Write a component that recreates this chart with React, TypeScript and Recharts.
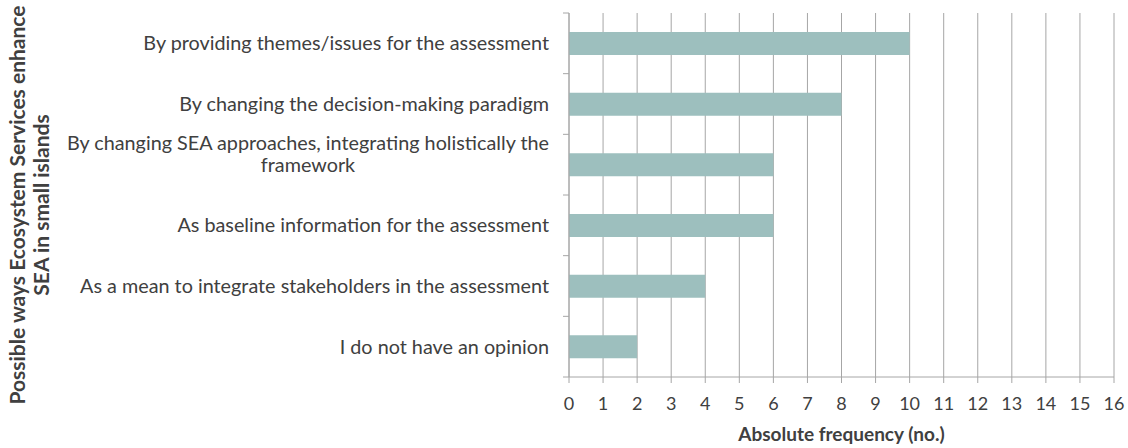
import { BarChart, Bar, XAxis, YAxis, CartesianGrid, Label } from 'recharts'

const categories = [
  'By providing themes/issues for the assessment',
  'By changing the decision-making paradigm',
  'By changing SEA approaches, integrating holistically the\nframework',
  'As baseline information for the assessment',
  'As a mean to integrate stakeholders in the assessment',
  'I do not have an opinion',
]
const frequency = [10, 8, 6, 6, 4, 2]
const xTicks = [0, 1, 2, 3, 4, 5, 6, 7, 8, 9, 10, 11, 12, 13, 14, 15, 16]
const yTitleLines = ['Possible ways Ecosystem Services enhance', 'SEA in  small islands']
const xTitle = 'Absolute frequency (no.)'

const data = categories.map((name, i) => ({ name, value: frequency[i] }))

const W = 1128
const H = 448
const MARGIN = { top: 13, right: 14, bottom: 0, left: 0 }
const Y_AXIS_W = 569
const X_AXIS_H = 71
const PLOT_H = H - MARGIN.top - MARGIN.bottom - X_AXIS_H
const BAND = PLOT_H / categories.length
const FONT = 'Lato, "Liberation Sans", sans-serif'
const GRID = '#a6a6a6'
const TEXT = '#404040'
const LABEL_GAP = 20

function CategoryTick(props: any) {
  const { x, y, payload, index } = props
  const lines = String(payload.value).split('\n')
  const axisX = x + LABEL_GAP
  const lh = 22
  // excel pushes wrapped labels up a bit
  const startY = y - (lines.length - 1) * 22
  return (
    <g>
      <line x1={axisX - 6} x2={axisX} y1={y - BAND / 2} y2={y - BAND / 2} stroke={GRID} />
      {index === categories.length - 1 && (
        <line x1={axisX - 6} x2={axisX} y1={y + BAND / 2} y2={y + BAND / 2} stroke={GRID} />
      )}
      {lines.map((ln, i) => (
        <text
          key={i}
          x={i === 0 ? x : x - 241}
          y={startY + i * lh}
          dy="0.35em"
          textAnchor={i === 0 ? 'end' : 'middle'}
          fontSize={19.8}
          fontFamily={FONT}
          fill={TEXT}
        >
          {ln}
        </text>
      ))}
    </g>
  )
}

function YTitle(props: any) {
  const { viewBox } = props
  const cy = viewBox.y + viewBox.height / 2 + 10
  return (
    <g>
      {yTitleLines.map((t, i) => {
        const cx = 16 + i * 24
        return (
          <text
            key={i}
            x={cx}
            y={cy}
            textAnchor="middle"
            dominantBaseline="central"
            transform={`rotate(-90, ${cx}, ${cy})`}
            fontSize={21}
            fontWeight="bold"
            fontFamily={FONT}
            fill={TEXT}
          >
            {t}
          </text>
        )
      })}
    </g>
  )
}

function XTitle(props: any) {
  const { viewBox } = props
  return (
    <text
      x={viewBox.x + viewBox.width / 2}
      y={viewBox.y + viewBox.height - 7}
      textAnchor="middle"
      fontSize={19}
      fontWeight="bold"
      fontFamily={FONT}
      fill={TEXT}
    >
      {xTitle}
    </text>
  )
}

export default function App() {
  return (
    <div style={{ position: 'absolute', left: 0, top: 0, background: '#fff' }}>
      <BarChart width={W} height={H} data={data} layout="vertical" margin={MARGIN}>
        <CartesianGrid vertical horizontal={false} stroke={GRID} />
        <XAxis
          type="number"
          domain={[0, 16]}
          ticks={xTicks}
          interval={0}
          height={X_AXIS_H}
          stroke={GRID}
          tickSize={6}
          tickMargin={14}
          tick={{ fontSize: 18, fill: TEXT, fontFamily: FONT }}
        >
          <Label content={<XTitle />} />
        </XAxis>
        <YAxis
          type="category"
          dataKey="name"
          width={Y_AXIS_W}
          stroke={GRID}
          tickLine={false}
          tickSize={0}
          tickMargin={LABEL_GAP}
          interval={0}
          tick={<CategoryTick />}
        >
          <Label content={<YTitle />} />
        </YAxis>
        <Bar dataKey="value" fill="#9dbfbe" barSize={23} isAnimationActive={false} />
      </BarChart>
    </div>
  )
}
